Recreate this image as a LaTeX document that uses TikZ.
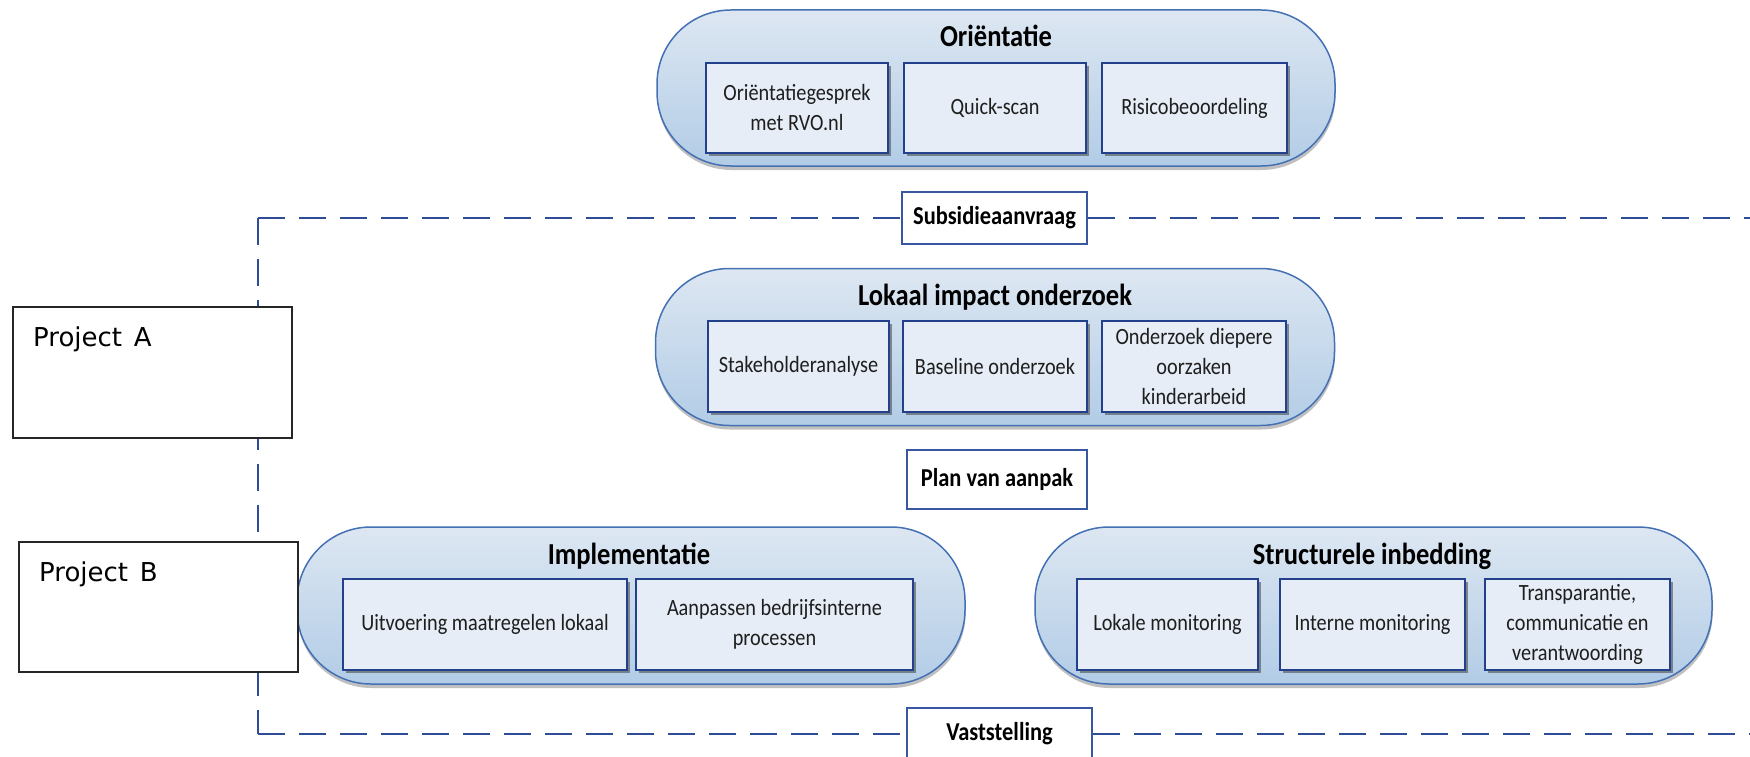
\documentclass[tikz,border=0pt]{standalone}
\usepackage{fontspec}
\setmainfont{Carlito}
\newfontfamily\calibf[FakeStretch=0.87]{Carlito}
\newfontfamily\verdf{DejaVu Sans}
\usetikzlibrary{shadows}
\pgfdeclarelayer{background}
\pgfsetlayers{background,main}
\definecolor{pilltop}{HTML}{DDE7F2}
\definecolor{pillbot}{HTML}{B2CCE6}
\definecolor{pillline}{HTML}{4470B4}
\definecolor{cellfill}{HTML}{E6EDF6}
\definecolor{cellline}{HTML}{23408C}
\definecolor{dashblue}{HTML}{2E4D96}
\definecolor{labline}{HTML}{3857A0}
\definecolor{txt}{HTML}{1E1E1E}
\begin{document}
\begin{tikzpicture}[x=1pt,y=-1pt,
  pill/.style={rounded corners=74pt, draw=pillline, line width=1.5pt,
    top color=pilltop, bottom color=pillbot,
    drop shadow={shadow xshift=0.5pt, shadow yshift=-4pt, fill=black!55, opacity=0.45},
    inner sep=0pt, minimum height=157pt},
  title/.style={font=\calibf\bfseries\fontsize{30.5}{34}\selectfont, text=black, anchor=base, inner sep=0pt},
  cell/.style={draw=cellline, line width=1.8pt, fill=cellfill,
    drop shadow={shadow xshift=3pt, shadow yshift=-3pt, fill=black!75, opacity=0.55},
    align=center, font=\calibf\fontsize{23.3}{30}\selectfont, text=txt, inner sep=2pt,
    minimum height=91pt},
  lab/.style={draw=labline, line width=1.5pt, fill=white,
    font=\calibf\bfseries\fontsize{25.8}{28}\selectfont, text=black, inner sep=0pt},
  proj/.style={draw=black!85, line width=1.2pt, fill=white, inner sep=0pt},
  projtext/.style={font=\verdf\fontsize{26}{30}\selectfont, text=black, anchor=base west, inner sep=0pt},
  dl/.style={draw=dashblue, line width=2.6pt, dash pattern=on 27pt off 14pt}
]
\useasboundingbox (0,0) rectangle (1750,757);

% Orientatie
\node[pill, minimum width=678pt, minimum height=156pt] (orP) at (996,88) {};
\node[title] (orT) at (996,47) {Oriëntatie};
\node[cell, minimum width=182pt, minimum height=90pt] (or1) at (797,108) {Oriëntatiegesprek\\met RVO.nl};
\node[cell, minimum width=182pt, minimum height=90pt] (or2) at (995,108) {Quick-scan};
\node[cell, minimum width=185pt, minimum height=90pt] (or3) at (1194.5,108) {Risicobeoordeling};

% Subsidieaanvraag
\node[lab, minimum width=185pt, minimum height=52pt] (sub) at (994.5,218) {Subsidieaanvraag};

% Lokaal impact onderzoek
\node[pill, minimum width=679pt] (loP) at (995,347) {};
\node[title] (loT) at (995,305) {Lokaal impact onderzoek};
\node[cell, minimum width=181pt] (lo1) at (798.5,366.5) {Stakeholderanalyse};
\node[cell, minimum width=184pt] (lo2) at (995,366.5) {Baseline onderzoek};
\node[cell, minimum width=184pt] (lo3) at (1194,366.5) {Onderzoek diepere\\oorzaken\\kinderarbeid};

% Plan van aanpak
\node[lab, minimum width=180pt, minimum height=59pt] (plan) at (997,479.5) {Plan van aanpak};

% Implementatie
\node[pill, minimum width=668pt] (imP) at (631,605.5) {};
\node[title] (imT) at (629,564) {Implementatie};
\node[cell, minimum width=284pt] (im1) at (485,624.5) {Uitvoering maatregelen lokaal};
\node[cell, minimum width=277pt] (im2) at (774.5,624.5) {Aanpassen bedrijfsinterne\\processen};

% Structurele inbedding
\node[pill, minimum width=677pt] (stP) at (1373.5,605.5) {};
\node[title] (stT) at (1372,564) {Structurele inbedding};
\node[cell, minimum width=181pt] (st1) at (1167.5,624.5) {Lokale monitoring};
\node[cell, minimum width=185pt] (st2) at (1372.5,624.5) {Interne monitoring};
\node[cell, minimum width=185pt] (st3) at (1577.5,624.5) {Transparantie,\\communicatie en\\verantwoording};

% Vaststelling
\node[lab, minimum width=185pt, minimum height=52pt] (vas) at (999.5,734) {Vaststelling};

% Project boxes
\node[proj, minimum width=279pt, minimum height=131pt] (pa) at (152.5,372.5) {};
\node[projtext] (paT) at (33,346) {Project\hspace{0.45em}A};
\node[proj, minimum width=279pt, minimum height=130pt] (pb) at (158.5,607) {};
\node[projtext] (pbT) at (39,581) {Project\hspace{0.45em}B};

% Dashed frame
\coordinate (tl) at (258,218);
\coordinate (tr) at (1752,218);
\coordinate (bl) at (258,734);
\coordinate (br) at (1752,734);
\begin{pgfonlayer}{background}
\draw[dl] (tl) -- (sub.west);
\draw[dl] (sub.east) -- (tr);
\draw[dl] (tl) -- (bl);
\draw[dl] (bl) -- (vas.west);
\draw[dl] (vas.east) -- (br);
\end{pgfonlayer}
\end{tikzpicture}
\end{document}
